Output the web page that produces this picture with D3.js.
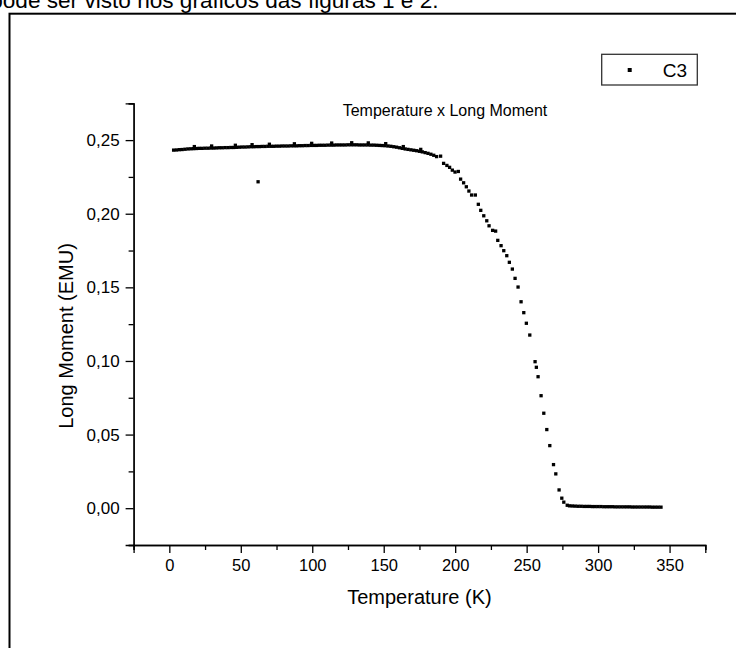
<!DOCTYPE html>
<html>
<head>
<meta charset="utf-8">
<script src="https://cdn.jsdelivr.net/npm/d3@7/dist/d3.min.js"></script>
<style>
  html, body { margin: 0; padding: 0; background: #fff; }
  svg { display: block; font-family: "Liberation Sans", Arial, sans-serif; }
</style>
</head>
<body>
<svg id="chart" width="736" height="648"></svg>
<script>
// ---- data ----
const plateauT = [3,5,7,9,11,13,15,17,19,21,23,25,27,29,31,33,35,37,39,41,43,45,47,49,51,53,55,57,59,61,63,65,67,69,71,73,75,77,79,81,83,85,87,89,91,93,95,97,99,101,103,105,107,109,111,113,115,117,119,121,123,125,127,129,131,133,135,137,139,141,143,145,147,149,151,153,155,157,159,161,163,165,167,169,171,173,175,177,179,181,183,185,187];
const plateauM = [.2432,.2433,.2435,.2436,.2438,.2440,.2441,.2442,.2443,.2444,.2444,.2445,.2445,.2446,.2446,.2447,.2448,.2448,.2449,.2449,.2450,.2450,.2451,.2452,.2453,.2453,.2454,.2455,.2455,.2456,.2456,.2457,.2457,.2458,.2458,.2458,.2459,.2459,.2460,.2460,.2460,.2461,.2461,.2461,.2462,.2462,.2463,.2463,.2464,.2464,.2464,.2465,.2465,.2465,.2466,.2466,.2466,.2467,.2467,.2467,.2467,.2468,.2468,.2468,.2468,.2467,.2467,.2467,.2467,.2466,.2466,.2465,.2464,.2463,.2462,.2460,.2458,.2455,.2452,.2448,.2444,.2440,.2437,.2434,.2431,.2428,.2424,.2420,.2415,.2410,.2404,.2397,.2388];
const bumpT = [17.5,29.6,46.2,57.9,70,87.5,99.6,113.6,127.6,139.2,151.4,163.7,175.9];
const bumpM = [.2456,.2460,.2465,.2469,.2472,.2475,.2478,.2480,.2482,.2481,.2476,.2456,.2437];
const outlierT = [62.1];
const outlierM = [.2217];
const transitionT = [189.8,191.9,194.2,196.1,198.0,199.9,202.2,203.8,205.9,207.8,209.6,211.5,214.1,216.2,217.9,220.0,222.1,223.7,226.2,228.3,229.8,232.1,234.0,236.1,237.9,240.0,241.9,244.0,246.1,248.0,249.8,252.2,255.9,256.8,258.0,260.1,262.0,264.1,266.2,268.8,270.4,272.7,274.6,276.0,278.4];
const transitionM = [.2391,.2342,.2328,.2315,.2296,.2283,.2287,.2235,.2210,.2183,.2154,.2127,.2127,.2064,.2023,.1986,.1952,.1918,.1887,.1882,.1819,.1783,.1749,.1715,.1670,.1624,.1561,.1502,.1402,.1328,.1256,.1176,.0995,.0957,.0893,.0764,.0645,.0534,.0425,.0296,.0233,.0124,.0068,.0041,.0020];
const tailT = [280,282,284,286,288,290,292,294,296,298,300,302,304,306,308,310,312,314,316,318,320,322,324,326,328,330,332,334,336,338,340,342,344];
const tailM = [.0016,.0015,.0014,.0013,.0013,.0012,.0012,.0012,.0011,.0011,.0011,.0011,.0010,.0010,.0010,.0010,.0009,.0009,.0009,.0009,.0009,.0009,.0008,.0008,.0008,.0008,.0008,.0008,.0008,.0007,.0007,.0007,.0007];

const xTicks = [0,50,100,150,200,250,300,350];
const xTickLabels = ["0","50","100","150","200","250","300","350"];
const xMinorTicks = [-25,25,75,125,175,225,275,325,375];
const yTicks = [0,0.05,0.10,0.15,0.20,0.25];
const yTickLabels = ["0,00","0,05","0,10","0,15","0,20","0,25"];
const yMinorTicks = [-0.025,0.025,0.075,0.125,0.175,0.225,0.275];

const seriesName = "C3";
const chartTitle = "Temperature x Long Moment";
const xTitle = "Temperature (K)";
const yTitle = "Long Moment (EMU)";
const pageText = "pode ser visto nos gráficos das figuras 1 e 2.";

// ---- build ----
const points = [];
plateauT.forEach((t,i)=>points.push([t, plateauM[i]]));
bumpT.forEach((t,i)=>points.push([t, bumpM[i]]));
outlierT.forEach((t,i)=>points.push([t, outlierM[i]]));
transitionT.forEach((t,i)=>points.push([t, transitionM[i]]));
tailT.forEach((t,i)=>points.push([t, tailM[i]]));

const svg = d3.select("#chart");

// page text and frame
svg.append("text").attr("x", -9.8).attr("y", 7.5)
  .attr("font-size", 22.6).attr("fill", "#000").text(pageText);
svg.append("rect").attr("x", 9.5).attr("y", 13.7).attr("width", 900).attr("height", 900)
  .attr("fill", "none").attr("stroke", "#000").attr("stroke-width", 2);

const x = d3.scaleLinear().domain([-25, 375]).range([133.6, 705.3]);
const y = d3.scaleLinear().domain([-0.025, 0.275]).range([545, 103.3]);

// axes
const xAxis = svg.append("g").attr("transform", `translate(0,${y(-0.025)})`)
  .call(d3.axisBottom(x).tickValues(xTicks).tickSize(8).tickPadding(6)
    .tickFormat((d,i)=>xTickLabels[i]));
const xMinor = svg.append("g").attr("transform", `translate(0,${y(-0.025)})`)
  .call(d3.axisBottom(x).tickValues(xMinorTicks).tickSize(5).tickFormat(""));
const yAxis = svg.append("g").attr("transform", `translate(${x(-25)},0)`)
  .call(d3.axisLeft(y).tickValues(yTicks).tickSize(8).tickPadding(6)
    .tickFormat((d,i)=>yTickLabels[i]));
const yMinor = svg.append("g").attr("transform", `translate(${x(-25)},0)`)
  .call(d3.axisLeft(y).tickValues(yMinorTicks).tickSize(5).tickFormat(""));

[xAxis, xMinor, yAxis, yMinor].forEach(g=>{
  g.selectAll("path.domain").attr("stroke", "#000").attr("stroke-width", 1.3);
  g.selectAll(".tick line").attr("stroke", "#000").attr("stroke-width", 1.3);
  g.selectAll(".tick text").attr("fill", "#000")
    .attr("font-family", '"Liberation Sans", Arial, sans-serif');
});
xAxis.selectAll(".tick text").attr("font-size", 16.5);
yAxis.selectAll(".tick text").attr("font-size", 17);

// titles
svg.append("text").attr("x", (x(-25)+x(375))/2).attr("y", 604)
  .attr("text-anchor", "middle").attr("font-size", 20).text(xTitle);
svg.append("text").attr("transform", "translate(72.6,336) rotate(-90)")
  .attr("text-anchor", "middle").attr("font-size", 20).text(yTitle);
svg.append("text").attr("x", 445).attr("y", 116)
  .attr("text-anchor", "middle").attr("font-size", 16).text(chartTitle);

// points
const s = 3.3;
svg.append("g").selectAll("rect").data(points).join("rect")
  .attr("x", d=>x(d[0])-s/2).attr("y", d=>y(d[1])-s/2)
  .attr("width", s).attr("height", s).attr("fill", "#000");

// legend
const lg = svg.append("g");
lg.append("rect").attr("x", 601.7).attr("y", 54.3).attr("width", 95.6).attr("height", 30.7)
  .attr("fill", "#fff").attr("stroke", "#333").attr("stroke-width", 1.3);
lg.append("rect").attr("x", 629.7-2).attr("y", 70-2).attr("width", 4).attr("height", 4).attr("fill", "#000");
lg.append("text").attr("x", 662.7).attr("y", 77).attr("font-size", 19).text(seriesName);
</script>
</body>
</html>
